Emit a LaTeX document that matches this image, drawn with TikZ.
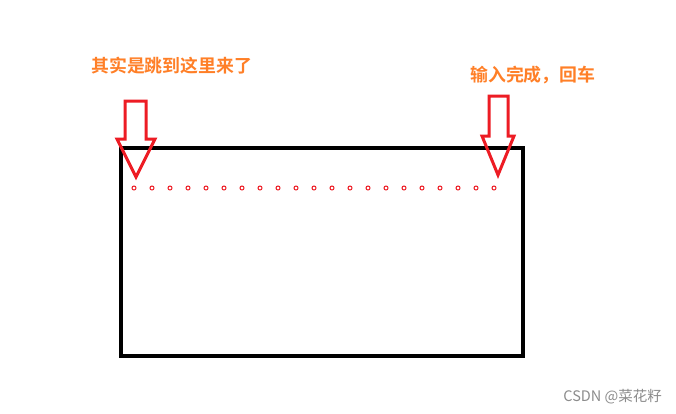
\documentclass[tikz,border=0pt]{standalone}
\usepackage{fontspec}
\newfontfamily\cjk{Noto Sans CJK SC}
\newfontfamily\cjkbold{Noto Sans CJK SC Bold}
\usetikzlibrary{positioning}

\definecolor{noteorange}{RGB}{255,127,39}
\definecolor{markred}{RGB}{237,28,36}

\tikzset{
  note/.style={text=noteorange, font=\cjkbold\fontsize{17.9}{17.9}\selectfont, inner sep=0pt},
  hollowarrow/.style={draw=markred, line width=3pt, line join=miter},
  cursordot/.style={draw=markred, line width=1pt},
  screen/.style={draw=black, line width=4pt},
}

% hollow down arrow: shaft left, shaft right, shaft top, head top, wing left, wing right, tip y
\newcommand{\downmark}[7]{%
  \draw[hollowarrow] (#1,#3) -- (#2,#3) -- (#2,#4) -- (#6,#4) -- ({(#5+#6)/2},#7)
    -- (#5,#4) -- (#1,#4) -- cycle;}

\begin{document}
\begin{tikzpicture}[x=1pt,y=-1pt]
   \useasboundingbox[fill=white] (0,0) rectangle (676,413);

   % Screen
      \draw[screen] (121,148) rectangle (523,356);

   % Cursor positions
      \foreach \i in {0,...,20}
         \draw[cursordot] (134+\i*18,188) circle (2);

   % Arrows
      \downmark{125}{146}{101}{139}{117}{155}{177}
      \downmark{489}{508}{96}{136}{482}{514}{175}

   % Notes
      \node[note, anchor=west] (jump) at (91,66)  {其实是跳到这里来了};
      \node[note, anchor=west] (done) at (470,75) {输入完成，回车};
      \node[text=black!45, font=\cjk\fontsize{14.5}{14.5}\selectfont, anchor=east, inner sep=0pt] (mark) at (662,397) {CSDN @菜花籽};
\end{tikzpicture}
\end{document}
